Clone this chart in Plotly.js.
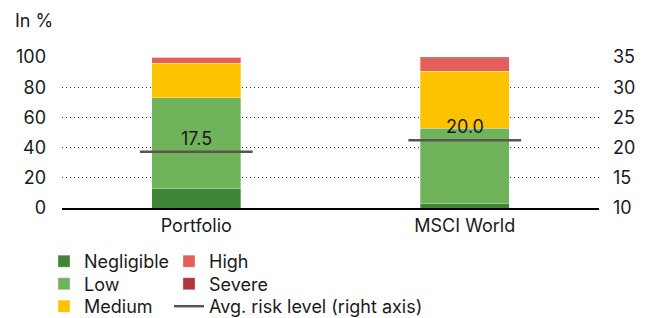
<!DOCTYPE html>
<html><head><meta charset="utf-8">
<script src="https://cdn.plot.ly/plotly-3.0.1.min.js"></script>
<style>body{margin:0;background:#fff}#chart{width:652px;height:318px}</style>
</head><body><div id="chart"></div>
<script>
const categories = ['Portfolio', 'MSCI World'];
const negligible = [13, 3];
const low = [60, 49.7];
const medium = [23, 38];
const high = [4, 8];
const severe = [0, 1.3];
const riskLinePos = [19.3, 21.2];
const riskLabels = ['17.5', '20.0'];

const FONT = 'Inter, "Liberation Sans", Arial, sans-serif';
const xIdx = categories.map((c, i) => i);
const half = 0.21;

function barTrace(name, vals, color, legend) {
  return {type: 'bar', name: name, x: xIdx, y: vals,
    marker: {color: color, line: {color: 'rgba(255,255,255,0.6)', width: 0.5}},
    width: 0.33, legend: legend, hoverinfo: 'none'};
}

const lx = [], ly = [];
xIdx.forEach((i) => { lx.push(i - half, i + half, null); ly.push(riskLinePos[i], riskLinePos[i], null); });

const traces = [
  barTrace('Negligible', negligible, '#3e8636', 'legend'),
  barTrace('Low', low, '#70b35a', 'legend2'),
  barTrace('Medium', medium, '#fdc300', 'legend3'),
  barTrace('High', high, '#e65e58', 'legend4'),
  barTrace('Severe', severe, '#b5343a', 'legend5'),
  {type: 'scatter', mode: 'lines', name: 'Avg. risk level (right axis)', x: lx, y: ly, yaxis: 'y2',
   line: {color: '#5b5550', width: 2.5}, legend: 'legend6', hoverinfo: 'none', connectgaps: false}
];

const annotations = xIdx.map((i) => ({x: i, y: riskLinePos[i], xref: 'x', yref: 'y2', text: riskLabels[i],
  showarrow: false, yanchor: 'bottom', yshift: 1, font: {family: FONT, size: 18, color: '#1a1a1a'}}));
annotations.push({xref: 'paper', yref: 'paper', x: -0.0912, y: 1.245, xanchor: 'left', yanchor: 'middle',
  text: 'In %', showarrow: false, font: {family: FONT, size: 18, color: '#1a1a1a'}});

const legFont = {family: FONT, size: 18, color: '#1a1a1a'};
function leg(px, row) {
  const top = 243 + 22.5 * row;
  return {x: (px - 62) / 537, y: (208 - top) / 151, xref: 'paper', yref: 'paper', xanchor: 'left', yanchor: 'top',
    orientation: 'v', font: legFont, itemwidth: 30, bgcolor: 'rgba(0,0,0,0)'};
}
const layout = {
  width: 652, height: 318, barmode: 'stack', bargap: 0,
  margin: {l: 62, r: 53, t: 57, b: 110, autoexpand: false},
  paper_bgcolor: '#fff', plot_bgcolor: '#fff',
  font: {family: FONT, size: 18, color: '#1a1a1a'},
  showlegend: true,
  xaxis: {range: [-0.5, 1.5], tickvals: xIdx, ticktext: categories, showgrid: false, zeroline: false,
    showline: true, linecolor: '#000', linewidth: 2, ticks: '', ticklen: 0, fixedrange: true},
  yaxis: {range: [0, 100], tickvals: [0, 20, 40, 60, 80, 100], showgrid: true, gridcolor: '#333',
    griddash: '1px,3px', gridwidth: 1.3, zeroline: false, ticks: '', ticklabelstandoff: 15, fixedrange: true},
  yaxis2: {range: [10, 35], tickvals: [10, 15, 20, 25, 30, 35], overlaying: 'y', side: 'right',
    showgrid: false, zeroline: false, ticks: '', ticklabelstandoff: 13, fixedrange: true},
  legend: leg(44, 0), legend2: leg(44, 1), legend3: leg(44, 2),
  legend4: leg(169, 0), legend5: leg(169, 1), legend6: leg(169, 2),
  annotations: annotations
};

Plotly.newPlot('chart', traces, layout, {displayModeBar: false, staticPlot: true});
</script></body></html>
